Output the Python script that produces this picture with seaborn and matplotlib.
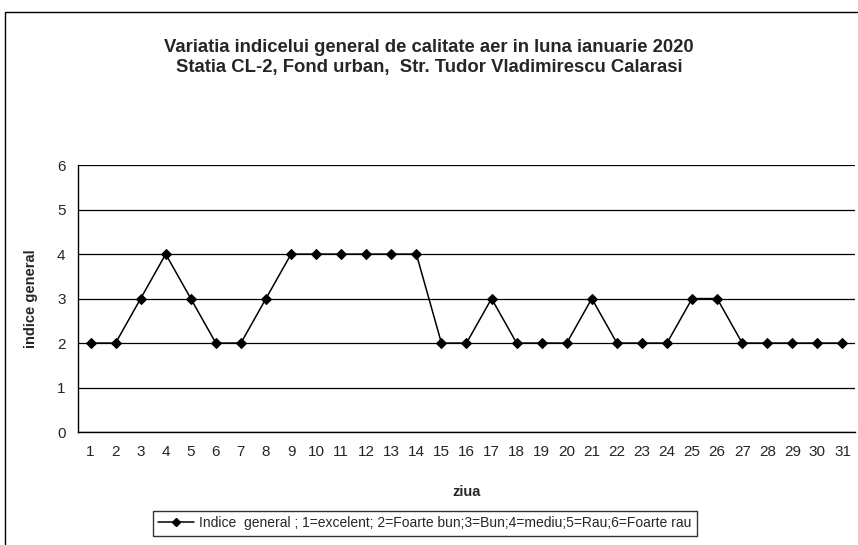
import matplotlib
matplotlib.use('Agg')
import matplotlib.pyplot as plt
import seaborn as sns
import pandas as pd
from matplotlib.patches import Rectangle
from matplotlib.lines import Line2D

# Data
zile = list(range(1, 32))
indice = [2, 2, 3, 4, 3, 2, 2, 3, 4, 4, 4, 4, 4, 4, 2, 2, 3, 2, 2, 2,
          3, 2, 2, 2, 3, 3, 2, 2, 2, 2, 2]
y_ticks = [0, 1, 2, 3, 4, 5, 6]

titlu = ("Variatia indicelui general de calitate aer in luna ianuarie 2020\n"
         "Statia CL-2, Fond urban,  Str. Tudor Vladimirescu Calarasi")
eticheta_legenda = ("Indice  general ; 1=excelent; 2=Foarte bun;3=Bun;4=mediu;"
                    "5=Rau;6=Foarte rau")

df = pd.DataFrame({'ziua': zile, 'indice': indice})

sns.set_style('white')
plt.rcParams['font.family'] = ['Liberation Sans', 'DejaVu Sans']

fig = plt.figure(figsize=(8.58, 5.45), dpi=100)
ax = fig.add_axes([0.0909, 0.2073, 0.9056, 0.4897])

sns.lineplot(data=df, x='ziua', y='indice', color='black', marker='D',
             markersize=5, linewidth=1.1, markeredgecolor='black', ax=ax)

ax.set_xlim(0.5, 31.5)
ax.set_ylim(0, 6)
ax.set_yticks(y_ticks)
ax.set_xticks(zile)
ax.set_xticks([z + 0.5 for z in range(0, 32)], minor=True)
ax.tick_params(axis='x', which='major', length=0, labelsize=11, pad=9)
ax.tick_params(axis='x', which='minor', length=4, width=1, direction='out')
ax.tick_params(axis='y', length=4, width=1, direction='out', labelsize=11, pad=5)
ax.yaxis.grid(True, color='black', linewidth=0.9)
ax.xaxis.grid(False)
for s in ['top', 'right']:
    ax.spines[s].set_visible(False)
for s in ['left', 'bottom']:
    ax.spines[s].set_color('black')
    ax.spines[s].set_linewidth(1)

ax.set_xlabel('ziua', fontsize=10.5, fontweight='bold', labelpad=19)
ax.set_ylabel('indice general', fontsize=10.5, fontweight='bold', labelpad=14)

fig.text(0.5, 0.895, titlu, ha='center', va='center', fontsize=13.3,
         fontweight='bold', linespacing=1.2)

# outer chart frame
fig.patches.append(Rectangle((0.006, -0.02), 1.1, 0.998, transform=fig.transFigure,
                             fill=False, edgecolor='black', linewidth=1))

handle = Line2D([], [], color='black', marker='D', markersize=4, linewidth=1.1)
leg = fig.legend([handle], [eticheta_legenda], loc='center',
                 bbox_to_anchor=(0.495, 0.04), fontsize=10,
                 frameon=True, fancybox=False, handlelength=2.6,
                 borderpad=0.4, handletextpad=0.3)
leg.get_frame().set_edgecolor('black')
leg.get_frame().set_linewidth(1)

plt.savefig('out.png', dpi=100)
